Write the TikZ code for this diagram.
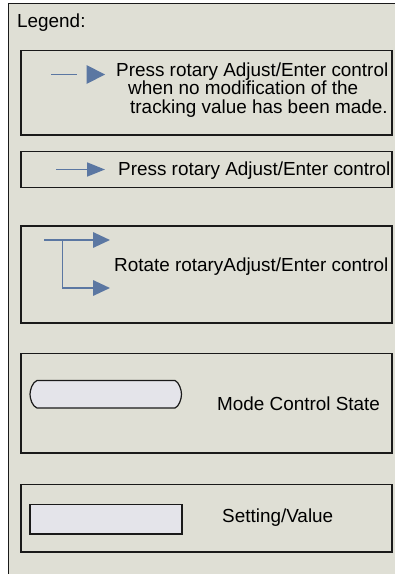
\documentclass[tikz,border=0pt]{standalone}
\usepackage{fontspec}
\setmainfont{Liberation Sans}
\usetikzlibrary{arrows.meta}
\definecolor{bgc}{HTML}{DFDFD5}
\definecolor{arrc}{HTML}{5B77A2}
\definecolor{shapec}{HTML}{E4E4EA}
\definecolor{linec}{HTML}{1A1A1A}
\tikzset{
  lbl/.style={inner sep=0pt, anchor=base west, font=\fontsize{18.9}{19}\selectfont},
  panel/.style={draw=linec, line width=1.4pt},
  arrline/.style={draw=arrc, line width=1.7pt},
  arrhead/.style={fill=arrc, draw=none},
}
\begin{document}
\begin{tikzpicture}[x=1pt,y=-1pt]
\useasboundingbox (0,0) rectangle (395,574);
\fill[white] (0,0) rectangle (395,574);
\clip (0,0) rectangle (395,574);
% outer frame
\filldraw[fill=bgc, draw=linec, line width=1.4pt] (8.5,3.5) rectangle (410,590);
\node[lbl] (legend) at (17,27.3) {Legend:};
% box 1
\draw[panel] (21,50.5) rectangle (392,135);
\draw[arrline] (51,74.5) -- (77,74.5);
\fill[arrhead] (86.5,65) -- (105,74.5) -- (86.5,84) -- cycle;
\node[lbl] (t1a) at (116,76) {Press rotary Adjust/Enter control};
\node[lbl] (t1b) at (128,94.7) {when no modification of the};
\node[lbl] (t1c) at (130,113.3) {tracking value has been made.};
% box 2
\draw[panel] (21,151.5) rectangle (392,187.5);
\coordinate (a2s) at (56,169.5);
\coordinate (a2e) at (105,169.5);
\draw[arrline, -{Triangle[length=18pt,width=14pt]}] (a2s) -- (a2e);
\node[lbl] (t2) at (118,175) {Press rotary Adjust/Enter control};
% box 3
\draw[panel] (21,226) rectangle (392,323);
\coordinate (a3s) at (44,240);
\coordinate (a3m) at (62.5,240);
\coordinate (a3e) at (110,240);
\coordinate (a3d) at (62.5,288);
\coordinate (a3f) at (110,288);
\draw[arrline, -{Triangle[length=17pt,width=15.5pt]}] (a3s) -- (a3e);
\draw[arrline, -{Triangle[length=17pt,width=15.5pt]}] (a3m) -- (a3d) -- (a3f);
\node[lbl] (t3) at (114,271) {Rotate rotaryAdjust/Enter control};
% box 4
\draw[panel] (21,353.5) rectangle (392,453);
\draw[fill=shapec, draw=linec, line width=1.2pt] (37,380.5) -- (175,380.5) .. controls (179,382) and (181.5,390) .. (181.5,394.25) .. controls (181.5,399) and (179,406.5) .. (175,408) -- (37,408) .. controls (32.5,406.5) and (30,399) .. (30,394.25) .. controls (30,390) and (32.5,382) .. (37,380.5) -- cycle;
\node[lbl] (t4) at (217,410) {Mode Control State};
% box 5
\draw[panel] (21,484.5) rectangle (392,552);
\draw[fill=shapec, draw=linec, line width=1.2pt] (30,504.5) rectangle (182,534);
\node[lbl] (t5) at (222,522.7) {Setting/Value};
\end{tikzpicture}
\end{document}
